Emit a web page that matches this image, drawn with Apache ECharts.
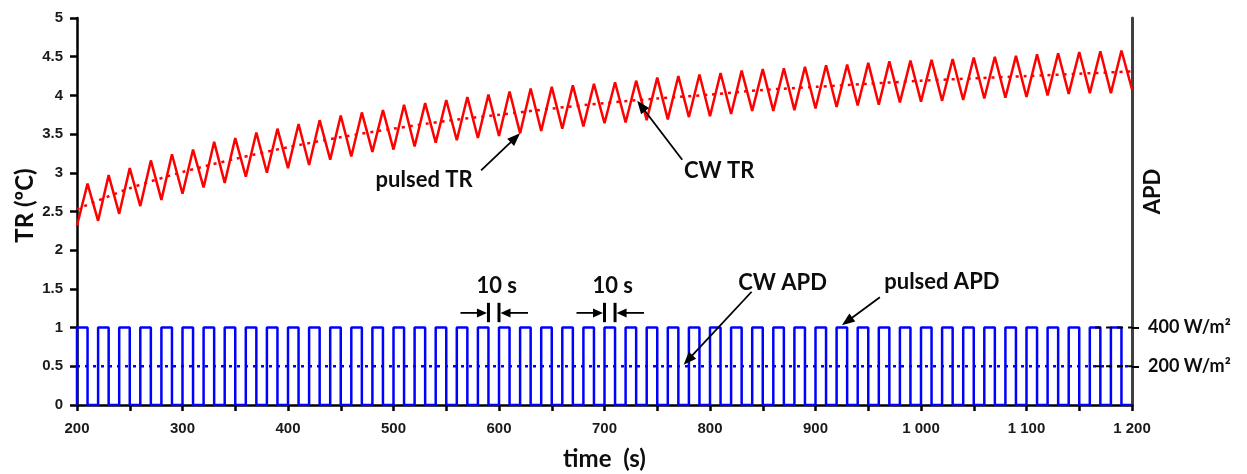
<!DOCTYPE html>
<html>
<head>
<meta charset="utf-8">
<script src="https://cdn.jsdelivr.net/npm/echarts@6/dist/echarts.min.js"></script>
<style>
html,body{margin:0;padding:0;background:#fff;}
#chart{width:1247px;height:474px;}
</style>
</head>
<body>
<div id="chart"></div>
<script>
// ---------------- data ----------------
const timeMin = 200;
const timeMax = 1200;
const sampleStep = 10; // s, pulse half-period

// pulsed TR: troughs at 200,220,...,1180 (plus end value at 1200)
const pulsedTRTroughs = [2.32, 2.38, 2.47, 2.57, 2.65, 2.73, 2.81, 2.87, 2.95, 3.00,
  3.06, 3.10, 3.17, 3.21, 3.27, 3.30, 3.34, 3.39, 3.42, 3.45,
  3.475, 3.51, 3.54, 3.57, 3.60, 3.64, 3.65, 3.68, 3.69, 3.72,
  3.73, 3.76, 3.80, 3.80, 3.81, 3.83, 3.85, 3.87, 3.88, 3.91,
  3.92, 3.93, 3.94, 3.96, 3.97, 3.98, 4.00, 4.02, 4.03, 4.03];
// pulsed TR: peaks at 210,230,...,1190
const pulsedTRPeaks = [2.86, 2.97, 3.06, 3.16, 3.24, 3.30, 3.40, 3.45, 3.52, 3.57,
  3.63, 3.68, 3.74, 3.78, 3.81, 3.88, 3.90, 3.94, 3.98, 4.01,
  4.05, 4.09, 4.11, 4.13, 4.15, 4.17, 4.19, 4.23, 4.25, 4.27,
  4.29, 4.32, 4.34, 4.35, 4.37, 4.39, 4.40, 4.42, 4.44, 4.45,
  4.46, 4.47, 4.49, 4.50, 4.51, 4.53, 4.545, 4.56, 4.57, 4.58];
const pulsedTREnd = 4.08;

// CW TR (dotted)
const cwTRTimes = [200, 250, 300, 350, 400, 450, 500, 550, 600, 650, 700,
  750, 800, 850, 900, 950, 1000, 1050, 1100, 1150, 1200];
const cwTRValues = [2.53, 2.80, 3.01, 3.18, 3.33, 3.46, 3.57, 3.67, 3.75, 3.83, 3.90,
  3.96, 4.01, 4.07, 4.11, 4.15, 4.19, 4.22, 4.25, 4.28, 4.31];

// pulsed APD: on/off state for each 10 s interval from 200 to 1200
const pulsedAPDStates = [1,0,1,0,1,0,1,0,1,0, 1,0,1,0,1,0,1,0,1,0,
  1,0,1,0,1,0,1,0,1,0, 1,0,1,0,1,0,1,0,1,0,
  1,0,1,0,1,0,1,0,1,0, 1,0,1,0,1,0,1,0,1,0,
  1,0,1,0,1,0,1,0,1,0, 1,0,1,0,1,0,1,0,1,0,
  1,0,1,0,1,0,1,0,1,0, 1,0,1,0,1,0,1,0,1,0];

// CW APD (dotted, constant)
const cwAPDTimes = [200, 1200];
const cwAPDValues = [0.5, 0.5];

// right axis irradiance labels (W/m2)
const apdTickValues = [200, 400];
const apdRefStart = 1165;

const yTickInterval = 0.5;
const xTickInterval = 100;

// ---------------- build tables ----------------
const pulsedTRData = [];
for (let i = 0; i < pulsedTRTroughs.length; i++) {
  pulsedTRData.push([timeMin + 2 * i * sampleStep, pulsedTRTroughs[i]]);
  pulsedTRData.push([timeMin + (2 * i + 1) * sampleStep, pulsedTRPeaks[i]]);
}
pulsedTRData.push([timeMax, pulsedTREnd]);

const cwTRData = cwTRTimes.map((t, i) => [t, cwTRValues[i]]);
const cwAPDData = cwAPDTimes.map((t, i) => [t, cwAPDValues[i]]);

const pulsedAPDData = [[timeMin, 0]];
pulsedAPDStates.forEach((s, i) => pulsedAPDData.push([timeMin + i * sampleStep, s]));
pulsedAPDData.push([timeMax, pulsedAPDStates[pulsedAPDStates.length - 1]]);

const refSeries = apdTickValues.map(v => ({
  type: 'line', yAxisIndex: 1, showSymbol: false, silent: true,
  data: [[apdRefStart, v], [timeMax, v]],
  lineStyle: { color: '#000', width: 2, type: [6, 5] }, z: 5
}));

function fmtThousands(v) {
  return String(v).replace(/\B(?=(\d{3})+(?!\d))/g, ' ');
}

const tickFont = { fontFamily: 'Liberation Sans', fontWeight: 'bold', fontSize: 15, color: '#1a1a1a' };
const titleFont = { fontFamily: 'Lato', fontWeight: 'bold', color: '#0d0d0d' };

const chart = echarts.init(document.getElementById('chart'), null, { renderer: 'canvas' });
const option = {
  animation: false,
  backgroundColor: '#fff',
  grid: { left: 77, right: 115, top: 18, bottom: 69, containLabel: false, outerBoundsMode: 'none' },
  xAxis: {
    type: 'value', min: timeMin, max: timeMax, interval: xTickInterval,
    name: 'time  (s)', nameLocation: 'middle', nameGap: 42, nameMoveOverlap: false,
    nameTextStyle: Object.assign({ fontSize: 24 }, titleFont),
    axisLine: { onZero: false, lineStyle: { color: '#000', width: 2.5 } },
    axisTick: { length: 6, lineStyle: { color: '#000', width: 2.5 } },
    minorTick: { show: true, splitNumber: 2, length: 6, lineStyle: { color: '#000', width: 2.5 } },
    splitLine: { show: false },
    axisLabel: Object.assign({ margin: 16, formatter: fmtThousands }, tickFont)
  },
  yAxis: [{
    type: 'value', min: 0, max: 5, interval: yTickInterval, position: 'left',
    name: 'TR (ºC)', nameLocation: 'middle', nameGap: 40, nameRotate: 90, nameMoveOverlap: false,
    nameTextStyle: Object.assign({ fontSize: 24, padding: [0, 0, 0, 12] }, titleFont),
    axisLine: { show: true, lineStyle: { color: '#000', width: 2.5 } },
    axisTick: { show: true, length: 7, lineStyle: { color: '#000', width: 2.5 } },
    splitLine: { show: false },
    axisLabel: Object.assign({ margin: 14 }, tickFont)
  }, {
    type: 'value', min: 0, max: 2000, position: 'right',
    name: 'APD', nameLocation: 'middle', nameGap: 10, nameRotate: 90, nameMoveOverlap: false,
    nameTextStyle: Object.assign({ fontSize: 22, padding: [0, 0, 0, 40] }, titleFont),
    axisLine: { show: true, lineStyle: { color: '#404040', width: 3 } },
    axisTick: { show: true, length: 7, customValues: apdTickValues, lineStyle: { color: '#000', width: 2 } },
    splitLine: { show: false },
    axisLabel: {
      customValues: apdTickValues, margin: 16,
      formatter: v => v + ' W/m²',
      fontFamily: 'Lato', fontWeight: 'bold', fontSize: 18, color: '#0d0d0d'
    }
  }],
  series: [
    {
      name: 'pulsed APD', type: 'line', step: 'end', showSymbol: false,
      data: pulsedAPDData,
      lineStyle: { color: '#0000ff', width: 2.5 }, z: 3
    },
    {
      name: 'CW APD', type: 'line', showSymbol: false,
      data: cwAPDData,
      lineStyle: { color: '#0000ff', width: 2.5, type: [3, 5] }, z: 3
    },
    {
      name: 'pulsed TR', type: 'line', showSymbol: false,
      data: pulsedTRData,
      lineStyle: { color: '#ff0000', width: 2.5 }, z: 4
    },
    {
      name: 'CW TR', type: 'line', showSymbol: false, smooth: 0.3,
      data: cwTRData,
      lineStyle: { color: '#ff0000', width: 2.5, type: [3, 5] }, z: 4
    }
  ].concat(refSeries)
};
chart.setOption(option);

// ---------------- annotations ----------------
function px(t, v) { return chart.convertToPixel({ xAxisIndex: 0, yAxisIndex: 0 }, [t, v]); }

function arrow(tail, tip, headLen, headW, lw) {
  const dx = tip[0] - tail[0], dy = tip[1] - tail[1];
  const L = Math.hypot(dx, dy);
  const ux = dx / L, uy = dy / L, nx = -uy, ny = ux;
  const bx = tip[0] - ux * headLen, by = tip[1] - uy * headLen;
  return [
    { type: 'line', silent: true, shape: { x1: tail[0], y1: tail[1], x2: bx + ux * 2, y2: by + uy * 2 },
      style: { stroke: '#000', lineWidth: lw }, z: 100 },
    { type: 'polygon', silent: true, shape: { points: [[tip[0], tip[1]], [bx + nx * headW / 2, by + ny * headW / 2], [bx - nx * headW / 2, by - ny * headW / 2]] },
      style: { fill: '#000' }, z: 100 }
  ];
}
function label(text, x, y, size) {
  return { type: 'text', silent: true, x: x, y: y, z: 100,
    style: { text: text, font: 'bold ' + size + 'px Lato', fill: '#0d0d0d', align: 'center', verticalAlign: 'middle' } };
}

// callouts: tip in data coords, tail & text offsets in px relative to tip
const callouts = [
  { text: 'pulsed TR', tip: [620, 3.51], tail: [-39, 37], txt: [-96, 47] },
  { text: 'CW TR', tip: [731, 3.93], tail: [45, 59], txt: [82, 70] },
  { text: 'CW APD', tip: [775, 0.52], tail: [68, -73], txt: [99, -82] },
  { text: 'pulsed APD', tip: [925, 1.03], tail: [38, -28], txt: [100, -43] }
];
// 10 s dimension markers (start/end times of one pulse)
const dims = [[590, 600], [700, 710]];

const elements = [];
callouts.forEach(c => {
  const p = px(c.tip[0], c.tip[1]);
  arrow([p[0] + c.tail[0], p[1] + c.tail[1]], p, 13, 10, 1.8).forEach(e => elements.push(e));
  elements.push(label(c.text, p[0] + c.txt[0], p[1] + c.txt[1], 22));
});
dims.forEach(d => {
  const a = px(d[0], 1.19), b = px(d[1], 1.19);
  const top = px(d[0], 1.32)[1], bot = px(d[0], 1.07)[1];
  [a, b].forEach(p => elements.push({ type: 'line', silent: true, z: 100,
    shape: { x1: p[0], y1: top, x2: p[0], y2: bot }, style: { stroke: '#000', lineWidth: 3 } }));
  arrow([a[0] - 28, a[1]], [a[0] - 1.5, a[1]], 10, 9, 1.8).forEach(e => elements.push(e));
  arrow([b[0] + 29, b[1]], [b[0] + 1.5, b[1]], 10, 9, 1.8).forEach(e => elements.push(e));
  elements.push(label('10 s', (a[0] + b[0]) / 2 + 3, top - 17, 22));
});
chart.setOption({ graphic: { elements: elements } });
</script>
</body>
</html>
